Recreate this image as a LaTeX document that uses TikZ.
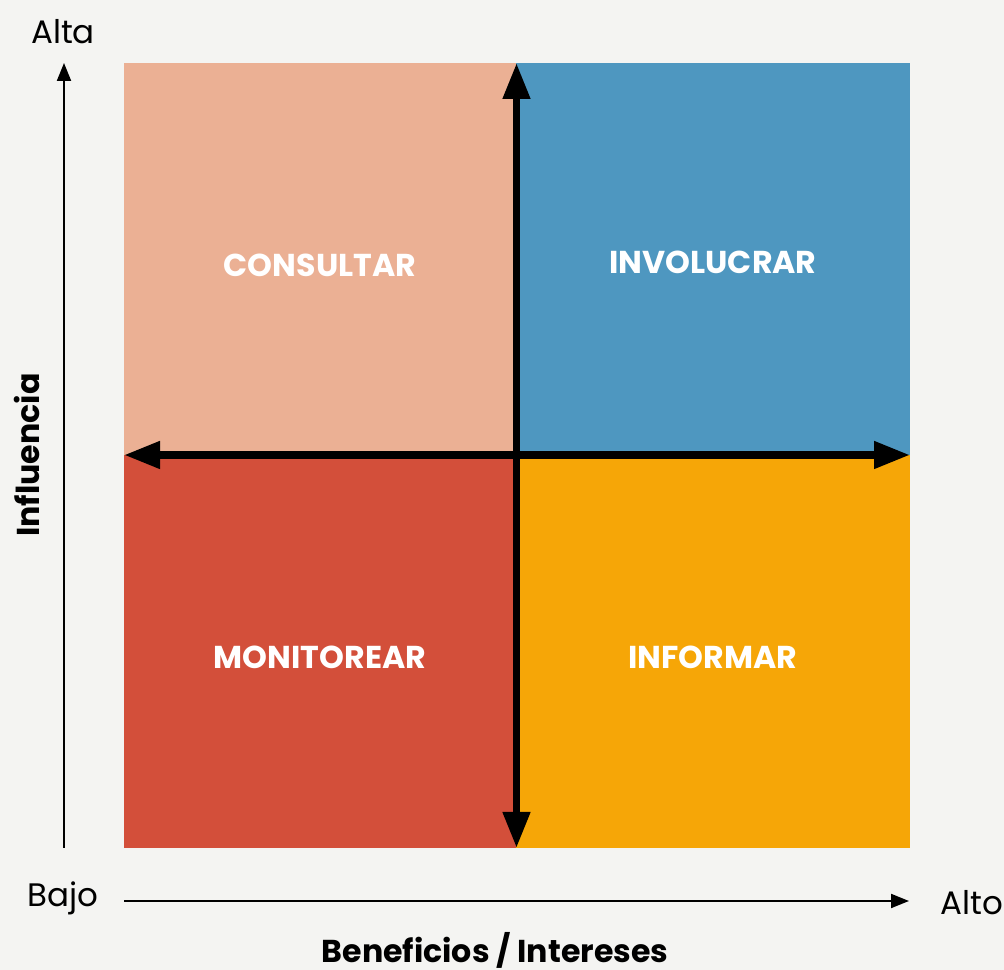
\documentclass[tikz,border=0pt]{standalone}
\usepackage{fontspec}
\setmainfont{Poppins}
\usetikzlibrary{arrows.meta}

\definecolor{bgcol}{RGB}{244,244,242}
\definecolor{peach}{RGB}{235,176,148}
\definecolor{steel}{RGB}{78,151,192}
\definecolor{brick}{RGB}{211,79,58}
\definecolor{amber}{RGB}{246,166,7}

\tikzset{
  quadlabel/.style={text=white, font=\fontsize{18}{21}\selectfont\bfseries},
  axislabel/.style={font=\fontsize{18.5}{22}\selectfont},
  axistitle/.style={font=\fontsize{18}{21}\selectfont\bfseries, inner sep=1pt},
  bigarrow/.style={line width=0.15cm, {Triangle[length=0.72cm,width=0.52cm]}-{Triangle[length=0.72cm,width=0.52cm]}},
  thinarrow/.style={line width=0.04cm, -{Triangle[length=0.36cm,width=0.28cm]}}
}

\begin{document}
\begin{tikzpicture}

% page
\fill[bgcol] (0,0) rectangle (20.08,19.4);
\useasboundingbox (0,0) rectangle (20.08,19.4);

% quadrants
\fill[peach] (2.48,10.3) rectangle (10.32,18.14);
\fill[steel] (10.32,10.3) rectangle (18.2,18.14);
\fill[brick] (2.48,2.44) rectangle (10.32,10.3);
\fill[amber] (10.32,2.44) rectangle (18.2,10.3);

\node[quadlabel] (consultar) at (6.4, 14.1) {CONSULTAR};
\node[quadlabel] (involucrar) at (14.26, 14.16) {INVOLUCRAR};
\node[quadlabel] (monitorear) at (6.4, 6.26) {MONITOREAR};
\node[quadlabel] (informar) at (14.26, 6.26) {INFORMAR};

% big cross
\coordinate (W) at (2.48, 10.3);
\coordinate (E) at (18.2, 10.3);
\coordinate (N) at (10.33, 18.14);
\coordinate (S) at (10.33, 2.44);
\draw[bigarrow] (W) -- (E);
\draw[bigarrow] (N) -- (S);

% axes
\coordinate (yfoot) at (1.28, 2.44);
\coordinate (ytip) at (1.28, 18.14);
\coordinate (xfoot) at (2.48, 1.38);
\coordinate (xtip) at (18.18, 1.38);
\draw[thinarrow] (yfoot) -- (ytip);
\draw[thinarrow] (xfoot) -- (xtip);

\node[axislabel] (alta) at (1.26, 18.76) {Alta};
\node[axislabel] (bajo) at (1.26, 1.44) {Bajo};
\node[axislabel] (alto) at (19.44, 1.34) {Alto};

\node[axistitle, rotate=90] (influencia) at (0.54, 10.3) {Influencia};
\node[axistitle] (beneficios) at (9.9, 0.4) {Beneficios / Intereses};

\end{tikzpicture}
\end{document}
